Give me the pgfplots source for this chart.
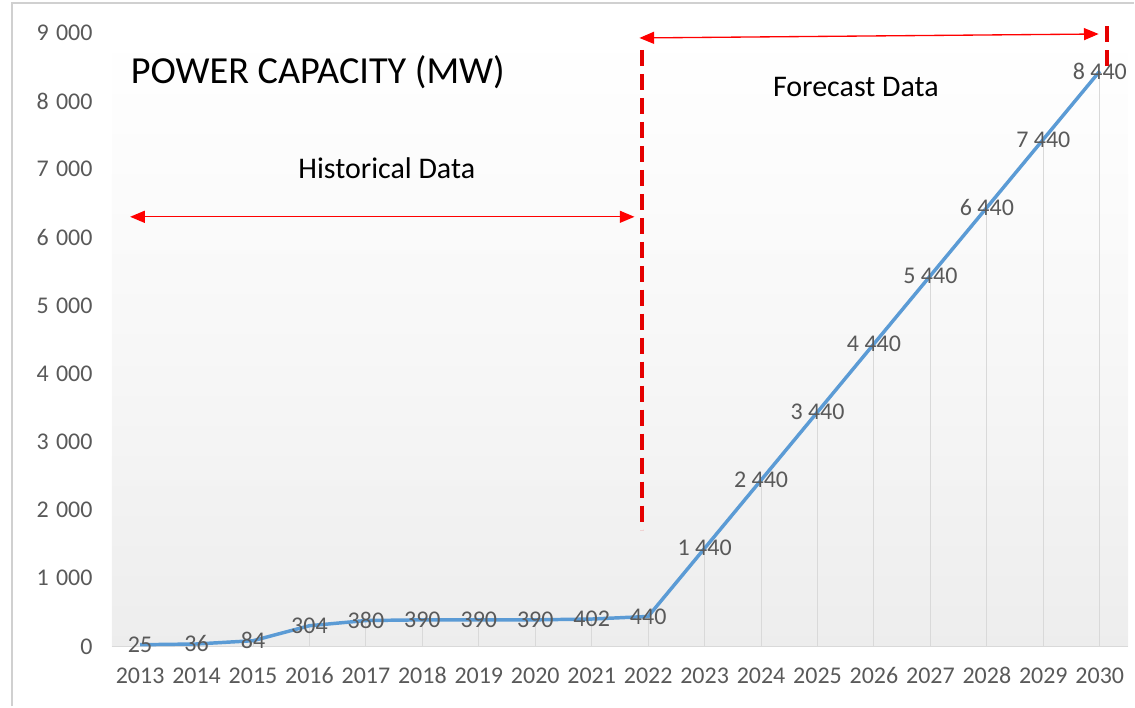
\documentclass[border=0pt]{standalone}
\usepackage{pgfplots}
\usepackage{pgfplotstable}
\pgfplotsset{compat=1.18}
\usepackage{fontspec}
\setmainfont{Carlito}
\usetikzlibrary{arrows.meta}
\definecolor{lineblue}{HTML}{5B9BD5}
\definecolor{txtgray}{HTML}{595959}
\definecolor{dropgray}{HTML}{D9D9D9}
\definecolor{bordgray}{HTML}{D0D0D0}
\pgfplotstableread[col sep=comma]{
x,y,lab
0,25,25
1,36,36
2,84,84
3,304,304
4,380,380
5,390,390
6,390,390
7,390,390
8,402,402
9,440,440
10,1440,1 440
11,2440,2 440
12,3440,3 440
13,4440,4 440
14,5440,5 440
15,6440,6 440
16,7440,7 440
17,8440,8 440
}\capdata
\begin{document}
\begin{tikzpicture}[x=0.75pt,y=0.75pt]
\begin{axis}[
  name=ax,
  at={(0,0)}, anchor=south west,
  scale only axis,
  width=762.75pt, height=460.5pt,
  xmin=-0.5, xmax=17.5, ymin=0, ymax=9000,
  clip=false,
  axis x line*=bottom, axis y line*=left,
  x axis line style={dropgray, line width=0.9pt},
  y axis line style={draw=none},
  major tick length=0pt,
  xtick={0,...,17},
  xticklabels={2013,2014,2015,2016,2017,2018,2019,2020,2021,2022,2023,2024,2025,2026,2027,2028,2029,2030},
  ytick={0,1000,...,9000},
  yticklabels={0,1\hspace{0.3em}000,2\hspace{0.3em}000,3\hspace{0.3em}000,4\hspace{0.3em}000,5\hspace{0.3em}000,6\hspace{0.3em}000,7\hspace{0.3em}000,8\hspace{0.3em}000,9\hspace{0.3em}000},
  /pgf/number format/assume math mode=true,
  tick label style={font=\fontsize{18}{21}\selectfont, text=txtgray},
  xticklabel style={anchor=north, text height=13pt, text depth=0pt, yshift=-11pt},
  yticklabel style={xshift=-11pt},
  axis background/.style={shade, top color=white, bottom color=black!7, middle color=black!3},
]
\addplot[ycomb, dropgray, line width=0.75pt, forget plot] table[x=x,y=y]{\capdata};
\addplot[lineblue, line width=2.6pt, no markers,
  point meta=explicit symbolic,
  nodes near coords={\pgfplotspointmeta},
  nodes near coords align={center},
  every node near coord/.style={anchor=center, text=txtgray, font=\fontsize{18}{21}\selectfont, inner sep=0pt}]
  table[x=x,y=y,meta=lab]{\capdata};
% annotations
\draw[red, line width=1pt, {Triangle[length=11pt,width=9pt]}-{Triangle[length=11pt,width=9pt]}]
  (axis cs:-0.177,6303) -- (axis cs:8.757,6303);
\draw[red, line width=1pt, {Triangle[length=11pt,width=9pt]}-{Triangle[length=11pt,width=9pt]}]
  (axis cs:8.845,8927) -- (axis cs:16.98,8985);
\draw[red!90!black, line width=3pt, dash pattern=on 12pt off 6pt]
  (axis cs:8.898,8751) -- (axis cs:8.898,1715);
\draw[red!90!black, line width=3pt, dash pattern=on 12pt off 6pt]
  (axis cs:17.12,9100) -- (axis cs:17.12,8385);
\node[font=\fontsize{28.7}{32}\selectfont, anchor=center] at (axis cs:3.149,8429) {POWER CAPACITY (MW)};
\node[font=\fontsize{22.5}{26}\selectfont, anchor=center] at (axis cs:4.369,7021) {Historical Data};
\node[font=\fontsize{22.5}{26}\selectfont, anchor=center] at (axis cs:12.68,8209) {Forecast Data};
\end{axis}
% outer frame and bounds (1 px = 0.75pt), axis origin at pixel (112,647)
\path (-112,-60) rectangle (1023,647);
\draw[bordgray, line width=1.5pt] (-100,-60) -- (-100,644) -- (1023,644);
\end{tikzpicture}
\end{document}
